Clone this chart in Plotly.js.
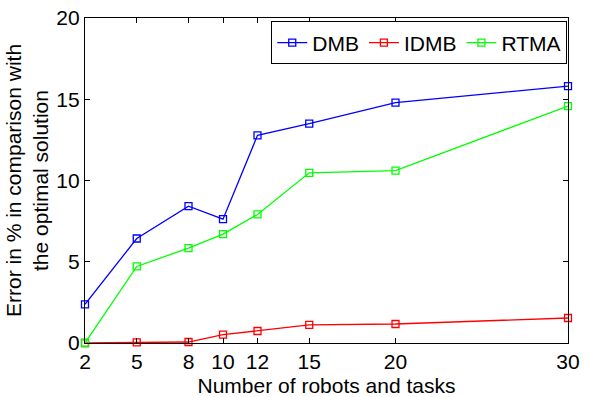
<!DOCTYPE html>
<html><head><meta charset="utf-8">
<script src="https://cdn.plot.ly/plotly-3.0.1.min.js"></script>
<style>html,body{margin:0;padding:0;background:#fff}</style>
</head><body>
<div id="chart" style="width:590px;height:397px"></div>
<script>
const xVals = [2, 5, 8, 10, 12, 15, 20, 30];
const dmb  = [2.38, 6.43, 8.42, 7.62, 12.78, 13.5, 14.79, 15.81];
const idmb = [0, 0.04, 0.06, 0.51, 0.74, 1.11, 1.17, 1.54];
const rtma = [0, 4.71, 5.84, 6.70, 7.91, 10.47, 10.61, 14.58];
const xTicks = [2, 5, 8, 10, 12, 15, 20, 30];
const yTicks = [0, 5, 10, 15, 20];

function tr(name, y, color) {
  return {x: xVals, y: y, name: name, type: 'scatter', mode: 'lines+markers',
    line: {color: color, width: 1.3},
    marker: {symbol: 'square-open', size: 7, color: color, line: {width: 1.3, color: color}},
    cliponaxis: false};
}
const data = [tr('DMB', dmb, '#0000ff'), tr('IDMB', idmb, '#ff0000'), tr('RTMA', rtma, '#00ff00')];
const fam = 'Liberation Sans, Arial, sans-serif';
const layout = {
  width: 590, height: 397,
  margin: {l: 85, r: 22, t: 18, b: 54},
  paper_bgcolor: '#fff', plot_bgcolor: '#fff',
  font: {family: fam, size: 21, color: '#000'},
  showlegend: true,
  legend: {orientation: 'h', x: 0.998, xanchor: 'right', y: 0.99, yanchor: 'top',
    bordercolor: '#000', borderwidth: 1.2, bgcolor: '#fff',
    font: {family: fam, size: 21, color: '#000'}, itemwidth: 30, tracegroupgap: 0},
  xaxis: {range: [2, 30], tickmode: 'array', tickvals: xTicks, ticktext: xTicks.map(String),
    ticks: 'inside', ticklen: 5, tickcolor: '#000', mirror: 'ticks', showline: true,
    linecolor: '#000', linewidth: 1.2, showgrid: false, zeroline: false,
    tickfont: {family: fam, size: 21, color: '#000'},
    title: {text: 'Number of robots and tasks', font: {family: fam, size: 21, color: '#000'}, standoff: 5}},
  yaxis: {range: [0, 20], tickmode: 'array', tickvals: yTicks, ticktext: yTicks.map(String),
    ticks: 'inside', ticklen: 5, tickcolor: '#000', mirror: 'ticks', showline: true,
    linecolor: '#000', linewidth: 1.2, showgrid: false, zeroline: false,
    tickfont: {family: fam, size: 21, color: '#000'},
    title: {text: 'Error in % in comparison with<br>the optimal solution', font: {family: fam, size: 21, color: '#000'}, standoff: 1}}
};
Plotly.newPlot('chart', data, layout, {displayModeBar: false, staticPlot: true});
</script>
</body></html>
